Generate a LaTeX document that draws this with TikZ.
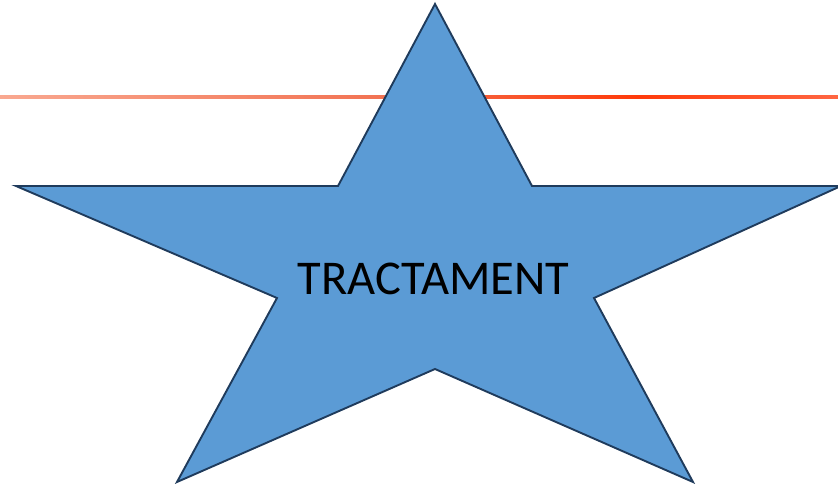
\documentclass[tikz,border=0pt]{standalone}
\usepackage{fontspec}
\setmainfont{Carlito}
\usetikzlibrary{calc}

\definecolor{starfill}{HTML}{5B9BD5}
\definecolor{staredge}{HTML}{1F3B5C}
\definecolor{lineA}{HTML}{F9A890}
\definecolor{lineB}{HTML}{F27252}
\definecolor{lineC}{HTML}{FF3A0A}
\definecolor{lineD}{HTML}{FF6642}
\pgfdeclarehorizontalshading{redline}{100bp}{color(0bp)=(lineA); color(25bp)=(lineA);
  color(48bp)=(lineB); color(63bp)=(lineC); color(75bp)=(lineD); color(100bp)=(lineD)}

\begin{document}
\begin{tikzpicture}[
    x=1pt, y=-1pt,
    starshape/.style={fill=starfill, draw=staredge, line width=1.9pt, line join=miter},
    labeltext/.style={font=\fontsize{48.5}{54}\selectfont, text=black, inner sep=0pt}
]
\useasboundingbox (0,0) rectangle (838,487);
%
\shade[shading=redline] (0,95.5) rectangle (838,98.5);
%
\coordinate (top) at (435,4);
\coordinate (ur) at (532,186);
\coordinate (rtip) at (841,186);
\coordinate (r) at (594,298);
\coordinate (brtip) at (693,482);
\coordinate (b) at (435,369);
\coordinate (bltip) at (177,482);
\coordinate (l) at (277,298);
\coordinate (ltip) at (16,186);
\coordinate (ul) at (338,186);
\draw[starshape] (top) -- (ur) -- (rtip) -- (r) -- (brtip) -- (b)
    -- (bltip) -- (l) -- (ltip) -- (ul) -- cycle;
%
\node[labeltext] (label) at (433.5,279) {TRACTAMENT};
\end{tikzpicture}
\end{document}
